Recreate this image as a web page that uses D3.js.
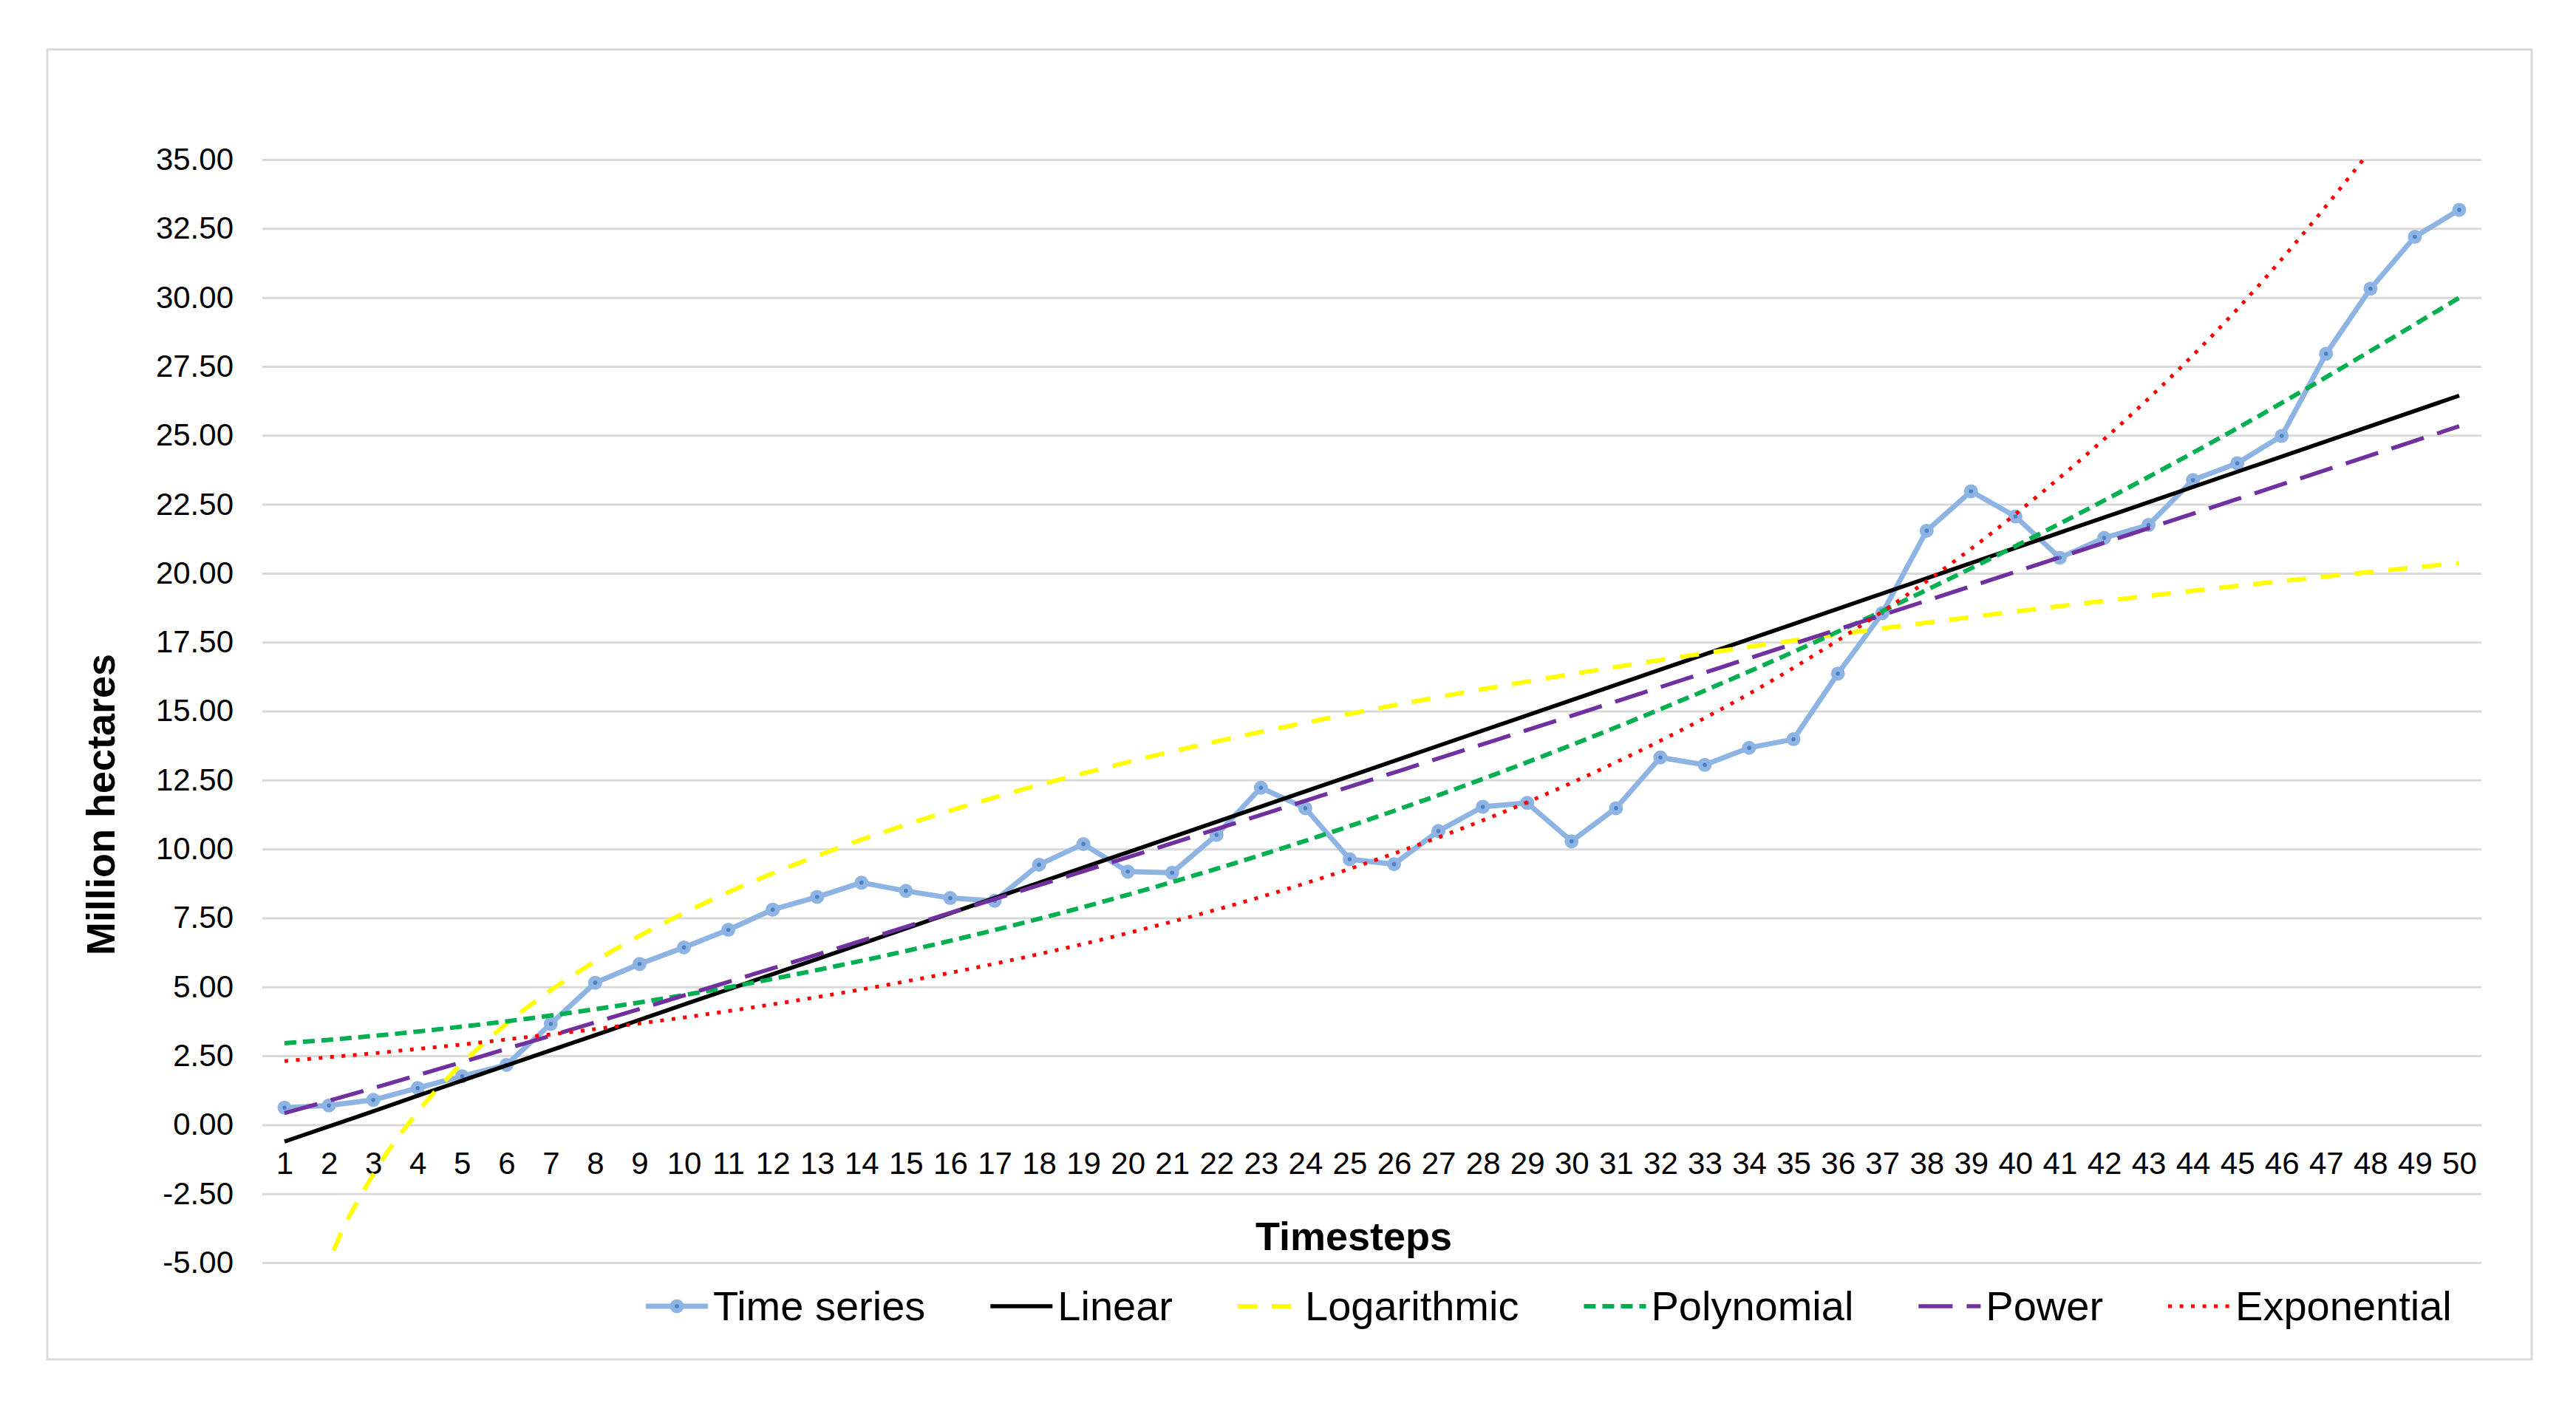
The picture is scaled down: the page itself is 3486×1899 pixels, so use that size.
<!DOCTYPE html>
<html><head><meta charset="utf-8">
<script src="https://cdn.jsdelivr.net/npm/d3@7"></script>
<style>body{margin:0;background:#fff}</style>
</head><body>
<svg id="chart" width="3486" height="1899"></svg>
<script>
// ---------- data ----------
const timesteps = [1,2,3,4,5,6,7,8,9,10,11,12,13,14,15,16,17,18,19,20,21,22,23,24,25,26,27,28,29,30,31,32,33,34,35,36,37,38,39,40,41,42,43,44,45,46,47,48,49,50];
const timeSeries = [0.62,0.70,0.90,1.33,1.76,2.17,3.66,5.15,5.83,6.43,7.07,7.80,8.26,8.78,8.48,8.22,8.12,9.43,10.18,9.18,9.14,10.51,12.22,11.48,9.63,9.45,10.65,11.53,11.67,10.28,11.48,13.32,13.05,13.67,13.98,16.36,18.55,21.54,22.97,22.06,20.56,21.28,21.75,23.38,23.99,24.98,27.96,30.32,32.20,33.18];
// trend lines at these timesteps
const trendX       = [1,2,3,4,5,6,8,10,13,16,20,25,30,35,40,45,50];
const linearTrend  = [-0.61,-0.06,0.49,1.05,1.60,2.15,3.25,4.36,6.01,7.67,9.88,12.64,15.40,18.16,20.92,23.68,26.44];
const logTrend     = [-10.46,-5.00,-1.80,0.46,2.22,3.66,5.93,7.68,9.75,11.39,13.15,14.90,16.34,17.56,18.61,19.54,20.37];
const polyTrend    = [2.96,3.08,3.22,3.38,3.56,3.75,4.19,4.70,5.61,6.67,8.34,10.83,13.77,17.15,20.98,25.26,29.99];
const powerTrend   = [0.42,0.87,1.33,1.80,2.27,2.75,3.71,4.69,6.17,7.68,9.70,12.26,14.83,17.44,20.05,22.69,25.33];
const expTrend     = [2.31,2.45,2.59,2.75,2.91,3.09,3.47,3.89,4.63,5.51,6.95,9.28,12.40,16.57,22.14,29.58,39.52];
const yTicks = [-5,-2.5,0,2.5,5,7.5,10,12.5,15,17.5,20,22.5,25,27.5,30,32.5,35];
const seriesNames = ["Time series","Linear","Logarithmic","Polynomial","Power","Exponential"];
const xTitle = "Timesteps";
const yTitle = "Million hectares";

// ---------- styles ----------
const styles = {
  "Time series": {stroke:"#8EB4E3", width:7, dash:null},
  "Linear":      {stroke:"#000000", width:5.5, dash:null},
  "Logarithmic": {stroke:"#FFFF00", width:6, dash:"26,20"},
  "Polynomial":  {stroke:"#00B050", width:6, dash:"16,9"},
  "Power":       {stroke:"#7030A0", width:5.5, dash:"46,19"},
  "Exponential": {stroke:"#FF0000", width:5, dash:"5,10.5"}
};
const font = '"Liberation Sans", Arial, sans-serif';

const W = 3486, H = 1899;
const svg = d3.select("#chart");
svg.append("rect").attr("width", W).attr("height", H).attr("fill", "#fff");
svg.append("rect").attr("x", 64).attr("y", 67).attr("width", 3362).attr("height", 1773)
  .attr("fill", "none").attr("stroke", "#d9d9d9").attr("stroke-width", 3);

const plot = {left:355, right:3358, top:216, bottom:1709};
const x = d3.scalePoint().domain(timesteps).range([plot.left, plot.right]).padding(0.5);
const xl = d3.scaleLinear().domain([timesteps[0], timesteps[timesteps.length-1]])
  .range([x(timesteps[0]), x(timesteps[timesteps.length-1])]);
const y = d3.scaleLinear().domain([-5, 35]).range([plot.bottom, plot.top]);

// clip
svg.append("defs").append("clipPath").attr("id", "clip").append("rect")
  .attr("x", plot.left).attr("y", plot.top)
  .attr("width", plot.right - plot.left).attr("height", plot.bottom - plot.top);

// y axis with gridlines
const f2 = d3.format(".2f");
const yAxis = svg.append("g").attr("transform", `translate(${plot.left},0)`)
  .call(d3.axisLeft(y).tickValues(yTicks).tickFormat(d => f2(d).replace("\u2212", "-"))
    .tickSize(-(plot.right - plot.left)).tickPadding(39));
yAxis.select(".domain").remove();
yAxis.selectAll(".tick line").attr("stroke", "#d9d9d9").attr("stroke-width", 3);
yAxis.selectAll(".tick text").attr("font-family", font).attr("font-size", 42).attr("fill", "#000");

// x axis labels (crossing at 0)
const xAxis = svg.append("g").attr("transform", `translate(0,${y(0)})`)
  .call(d3.axisBottom(x).tickSize(0).tickPadding(37));
xAxis.select(".domain").remove();
xAxis.selectAll(".tick text").attr("font-family", font).attr("font-size", 42).attr("fill", "#000");

// titles
svg.append("text").attr("x", 1832).attr("y", 1692).attr("text-anchor", "middle")
  .attr("font-family", font).attr("font-weight", "bold").attr("font-size", 54).text(xTitle);
svg.append("text").attr("transform", "translate(155,1089) rotate(-90)").attr("text-anchor", "middle")
  .attr("font-family", font).attr("font-weight", "bold").attr("font-size", 54).text(yTitle);

const gPlot = svg.append("g").attr("clip-path", "url(#clip)");

// time series
const tsLine = d3.line().x((d, i) => x(timesteps[i])).y(d => y(d));
const st = styles["Time series"];
gPlot.append("path").datum(timeSeries).attr("d", tsLine).attr("fill", "none")
  .attr("stroke", st.stroke).attr("stroke-width", st.width).attr("stroke-linejoin", "round");
const mk = gPlot.append("g").selectAll("g").data(timeSeries).join("g")
  .attr("transform", (d, i) => `translate(${x(timesteps[i])},${y(d)})`);
mk.append("circle").attr("r", 9.5).attr("fill", st.stroke);
mk.append("circle").attr("r", 2.8).attr("fill", "#4F7FC4");

// trend lines
const trendData = [
  ["Linear", linearTrend], ["Logarithmic", logTrend], ["Polynomial", polyTrend],
  ["Power", powerTrend], ["Exponential", expTrend]
];
const trendLine = d3.line().x((d, i) => xl(trendX[i])).y(d => y(d)).curve(d3.curveMonotoneX);
trendData.forEach(([name, vals]) => {
  const s = styles[name];
  gPlot.append("path").datum(vals).attr("d", trendLine).attr("fill", "none")
    .attr("stroke", s.stroke).attr("stroke-width", s.width)
    .attr("stroke-dasharray", s.dash);
});

// legend
const legY = 1768;
let lx = 874;
seriesNames.forEach(name => {
  const s = styles[name];
  const g = svg.append("g");
  g.append("line").attr("x1", lx).attr("x2", lx + 84).attr("y1", legY).attr("y2", legY)
    .attr("stroke", s.stroke).attr("stroke-width", s.width).attr("stroke-dasharray", s.dash);
  if (name === "Time series") {
    g.append("circle").attr("cx", lx + 42).attr("cy", legY).attr("r", 9.5).attr("fill", s.stroke);
    g.append("circle").attr("cx", lx + 42).attr("cy", legY).attr("r", 2.8).attr("fill", "#4F7FC4");
  }
  const t = g.append("text").attr("x", lx + 91).attr("y", 1787)
    .attr("font-family", font).attr("font-size", 56).attr("fill", "#000").text(name);
  lx = lx + 91 + t.node().getComputedTextLength() + 88;
});
</script>
</body></html>
